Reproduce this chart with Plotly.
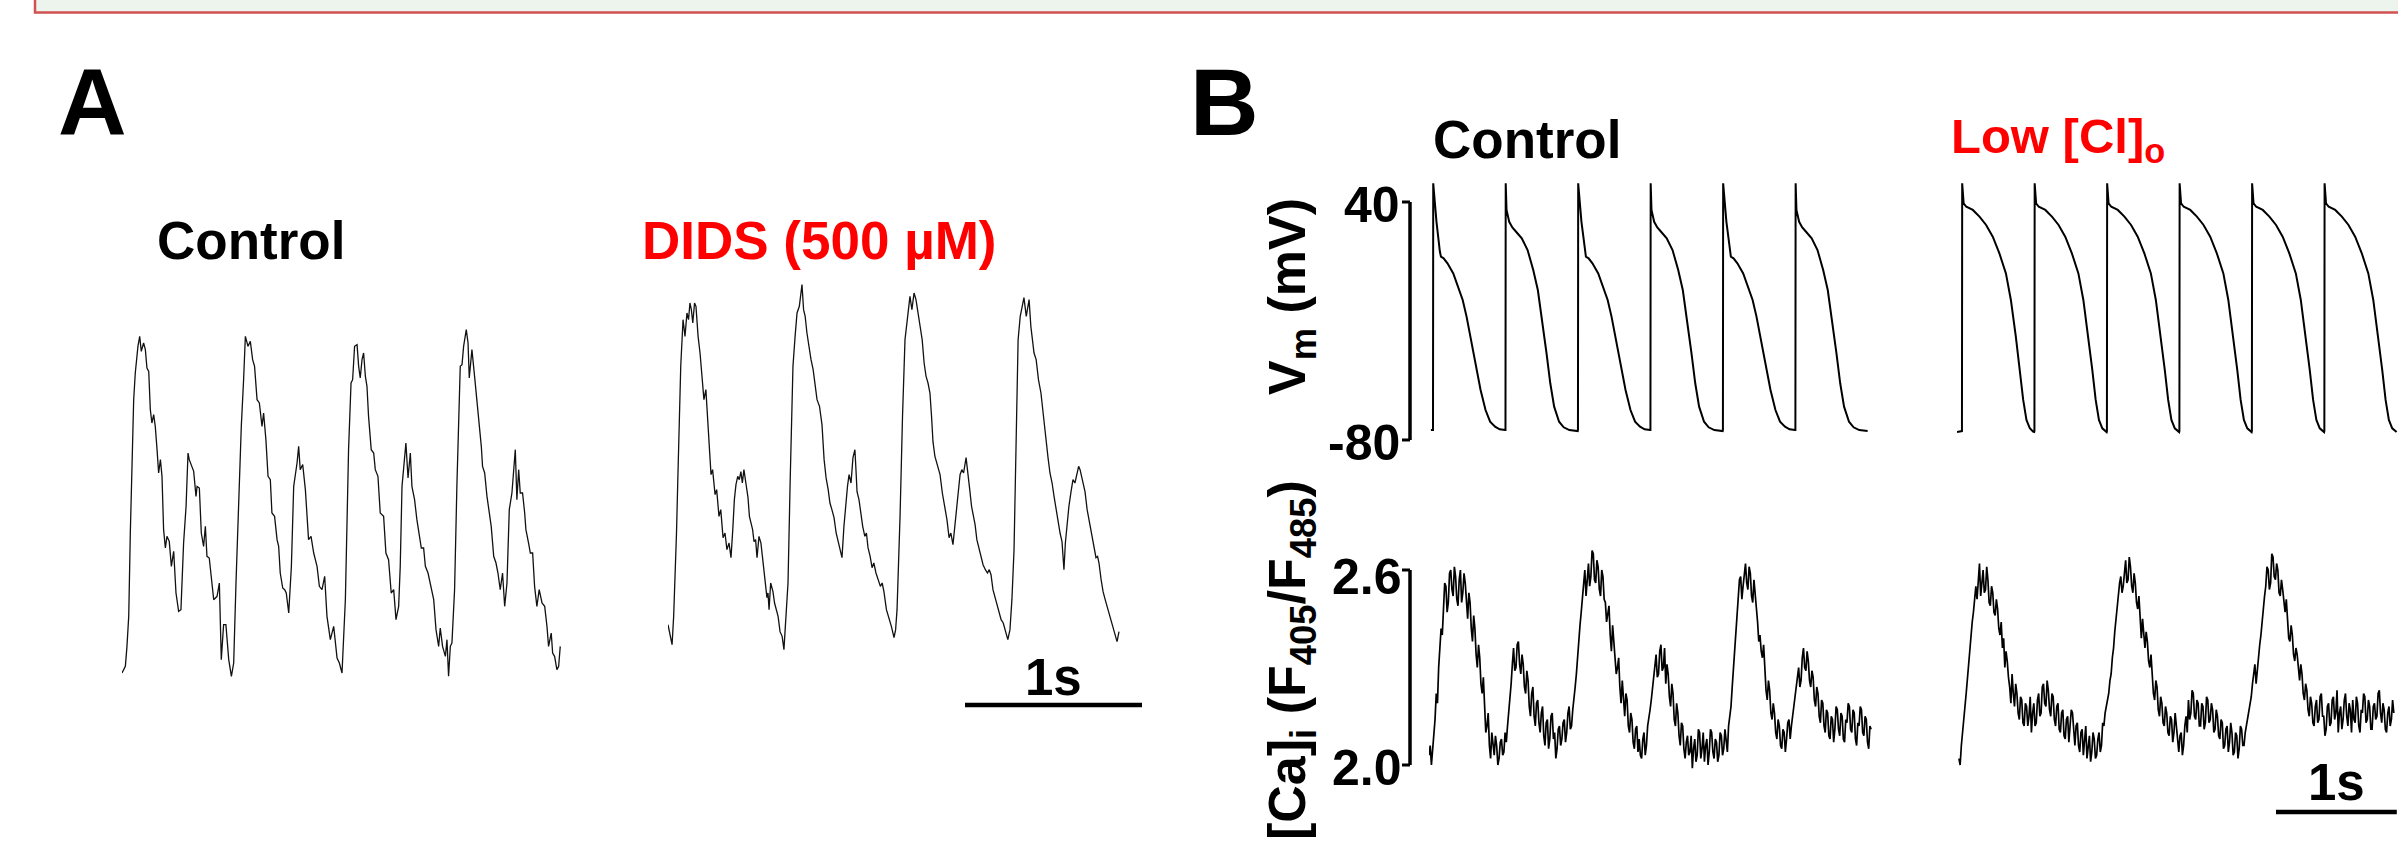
import plotly.graph_objects as go

W, H = 2398, 850

# ---------------- data ----------------
# Panel A: Ca transients (a.u.), time in ms
ctrlA = [(0,3),(19,5),(28,11),(38,20),(47,45),(56,63),(66,85),(75,93),(85,100),(90,101),(100,104),(109,99.5),(122,102),(132,100),(141,94.5),(151,93.5),(160,82),(169,78),(179,80.5),(188,77),(198,70),(207,63),(217,67),(226,62),(235,46),(245,40.5),(254,44),(267,42.5),(279,35),(292,39.5),(305,27),(320,21.5),(333,22),(348,42),(362,53),(373,69),(380,67),(395,64.5),(405,63.5),(418,56),(424,59),(437,58.5),(448,45),(461,41),(471,47),(480,38),(493,37.5),(508,30),(518,25),(537,26),(550,30),(561,7),(574,17.5),(587,17.5),(603,7),(618,2),(631,6),(644,30),(659,55),(674,77),(687,91),(697,104),(712,101),(725,102.5),(738,97),(749,95),(763,85),(776,84),(791,77),(800,81),(813,73),(825,62),(838,61),(847,51),(862,50),(876,43),(885,41),(894,33),(908,28.5),(919,28),(928,27),(942,21),(957,35),(970,59),(989,66),(998,71),(1007,64),(1021,65.5),(1036,58),(1054,43),(1068,44),(1083,39),(1102,35),(1115,29),(1130,28),(1145,32),(1158,20),(1177,13),(1196,17),(1215,7.5),(1228,6),(1243,3),(1262,25),(1271,51),(1280,70),(1294,90),(1303,91),(1314,101),(1328,101.5),(1337,95),(1346,91.5),(1356,97),(1365,99),(1375,92),(1384,89),(1393,80),(1408,70),(1422,69),(1431,64),(1446,62),(1459,51),(1478,50),(1491,39),(1506,37),(1521,27),(1535,28),(1548,19),(1563,23),(1572,35),(1582,59),(1597,67),(1604,72),(1616,61.5),(1629,69),(1638,59),(1653,55),(1666,49),(1676,45),(1691,40.5),(1704,40.5),(1714,35),(1729,33),(1742,29.5),(1761,25),(1774,16),(1789,11),(1798,16.5),(1811,11),(1827,8),(1836,13),(1845,2),(1855,11),(1864,12),(1879,28),(1892,59),(1902,82),(1911,95),(1921,95.5),(1930,101),(1945,106),(1955,102),(1962,91.5),(1977,100),(1992,92),(2002,87),(2015,80.5),(2030,71),(2037,65),(2049,63),(2062,56),(2071,52),(2086,47),(2100,38),(2113,36),(2124,33),(2137,28),(2150,33),(2162,23),(2175,30),(2188,52),(2203,57),(2213,64),(2222,70),(2231,55),(2241,64),(2250,57),(2263,57),(2275,51),(2282,46),(2297,42),(2307,39),(2320,39),(2331,29),(2344,23),(2357,28),(2373,24),(2388,23),(2401,17),(2410,11),(2425,15),(2433,9),(2444,8),(2457,4),(2467,5),(2476,11)]

didsA = [(0,17.5),(12,14),(23,11.5),(32,20),(40,31),(48,45),(55,60),(62,77.5),(72,95),(85,109),(96,104),(107,111),(116,109),(124,114),(132,112),(140,108),(150,114),(158,113),(165,107),(170,104),(181,99),(192,92),(203,85),(214,88),(226,77.5),(235,70),(243,62.5),(252,64),(266,56.5),(275,58),(288,50),(298,52),(311,43.6),(322,45),(333,40),(345,42),(356,37.6),(366,46),(375,55),(384,59.5),(394,62),(403,61),(412,63.4),(420,60),(429,64),(440,60),(452,55.6),(460,50),(469,48),(478,46),(486,42.4),(495,43),(503,37.6),(514,44),(525,42),(533,38),(542,34.6),(550,31),(559,25.6),(565,27),(571,22),(580,30),(593,27.4),(602,24),(610,22),(622,20),(633,15.4),(645,14),(655,10),(665,18),(678,30),(690,60),(706,95),(718,104),(729,111),(742,113),(757,119.5),(766,112),(775,110),(785,105),(796,101),(808,97),(820,94),(830,89),(842,85),(856,83),(870,77.5),(882,67),(893,61.6),(905,58),(915,54),(926,52),(938,49.6),(950,45),(961,42.4),(972,40),(983,37.6),(994,47),(1005,55),(1014,59),(1023,62.5),(1034,60),(1045,67.6),(1056,70),(1062,64),(1068,57.4),(1079,55),(1090,50),(1100,47),(1112,44),(1121,45),(1130,40.6),(1142,38),(1153,34.6),(1163,36),(1175,33),(1188,31),(1200,29),(1210,30),(1220,27.4),(1234,22),(1249,19.6),(1262,17),(1277,13.6),(1286,16),(1294,22),(1302,35),(1311,50),(1325,80),(1339,103),(1352,109),(1367,116),(1378,112),(1390,117),(1401,115),(1413,111),(1425,107),(1436,103),(1447,96),(1458,92),(1469,90),(1480,87),(1489,80),(1497,72.4),(1508,68),(1520,66),(1528,64),(1537,62.5),(1550,57),(1565,52.6),(1576,49),(1588,43.6),(1598,45),(1610,41.5),(1618,46),(1627,50),(1638,58),(1650,62.5),(1660,64),(1670,63),(1684,67.6),(1694,62),(1706,57.4),(1715,53),(1726,50),(1735,47.5),(1745,43),(1758,40),(1768,38),(1780,35.5),(1793,34),(1805,33),(1815,34),(1825,32.5),(1836,28),(1848,25.6),(1858,24),(1870,21),(1882,19),(1894,18),(1910,14.5),(1920,13),(1932,16),(1943,25),(1955,40),(1965,70),(1978,103),(1990,110),(2000,113),(2011,115.6),(2024,110),(2033,113),(2040,115),(2050,107),(2059,103),(2068,99),(2080,97),(2093,91),(2107,87),(2120,80),(2133,73),(2147,67.6),(2158,63),(2170,60),(2181,56),(2192,52.6),(2203,48),(2215,45),(2226,42.4),(2231,38),(2237,34),(2245,42),(2254,48),(2265,53),(2277,57.4),(2288,61),(2299,60),(2311,63.4),(2320,65),(2328,64),(2340,61),(2356,57.4),(2368,52),(2384,47.5),(2396,43),(2408,40),(2418,37.6),(2427,38),(2435,36),(2447,31),(2458,27.4),(2470,25),(2486,22),(2499,20),(2514,17.5),(2525,15),(2537,12.4),(2548,15.4)]

# Panel B: action potential shapes (ms after upstroke, mV)
ap_ctrl_a = [(0,-75),(2,49.4),(29,30),(57,15),(66,12.4),(88,11.6),(120,9.1),(168,4.0),(199,-1.0),(246,-9.4),(278,-17.8),(325,-33),(357,-43),(394,-54.8),(435,-64.9),(473,-70.8),(514,-73.3),(552,-74.6),(598,-75)]
ap_ctrl_b = [(0,-75),(2,49.4),(9,36),(31,30),(57,27.2),(88,25),(135,21.7),(183,15.8),(230,5.7),(268,-4.4),(308,-21.2),(340,-36.3),(371,-51.4),(403,-63.2),(444,-70.8),(482,-73.6),(529,-75),(598,-75.5)]
ap_low = [(0,-75.5),(2,49.4),(14,39.3),(36,37.6),(90,36),(145,32.6),(200,28.4),(255,22.5),(310,14.1),(364,4.0),(405,-9.4),(446,-27.9),(479,-44.7),(507,-59.8),(534,-69.9),(562,-74.1),(589,-75.8),(598,-76)]
vm_ctrl_onsets = [33, 633, 1233, 1833, 2433, 3033]
vm_ctrl_kinds = ["a", "b", "a", "b", "a", "b"]
vm_low_onsets = [41, 641, 1241, 1841, 2441, 3041]
vm_ctrl_start = (16, -75)
vm_low_start = (0, -76)

# Panel B: [Ca]i ratio F405/F485, sampled every 10 ms
ca_dt = 10
ca_ctrl_t0 = 0
ca_ctrl = [2.03,2.06,2.00,2.04,2.10,2.14,2.22,2.19,2.30,2.38,2.42,2.40,2.50,2.56,
           2.55,2.47,2.50,2.59,2.60,2.54,2.52,2.61,2.58,2.51,2.49,2.57,2.60,2.50,2.53,2.59,
           2.56,2.49,2.45,2.53,2.50,2.42,2.38,2.46,2.42,2.34,2.30,2.37,
           2.33,2.25,2.22,2.27,2.18,2.10,2.12,2.16,2.06,2.02,2.10,2.05,2.03,2.09,
           2.06,2.00,2.02,2.07,2.08,2.03,2.04,2.10,2.07,2.12,
           2.16,2.21,2.25,2.31,2.36,2.29,2.30,2.37,2.38,2.31,2.28,2.34,
           2.31,2.24,2.22,2.29,2.26,2.18,2.15,2.22,2.24,2.15,2.12,2.19,2.20,2.13,
           2.10,2.16,2.18,2.09,2.06,2.13,2.14,2.05,2.08,2.15,2.16,2.08,2.10,2.02,2.05,2.11,2.12,2.06,2.08,2.13,
           2.14,2.07,2.10,2.16,2.18,2.11,2.12,2.17,2.20,2.24,
           2.28,2.34,2.38,2.43,2.47,2.51,2.55,2.60,
           2.52,2.58,2.62,2.55,2.58,2.66,2.65,2.57,2.56,2.63,2.61,2.54,2.52,2.60,2.58,2.51,
           2.50,2.44,2.46,2.49,2.40,2.35,2.43,2.37,2.33,2.28,2.30,2.33,2.24,2.19,2.26,2.21,
           2.15,2.22,2.20,2.12,2.10,2.16,2.14,2.07,2.05,2.11,2.12,2.04,2.08,2.03,
           2.02,2.08,2.10,2.03,2.06,2.12,2.14,2.17,
           2.20,2.24,2.26,2.31,2.34,2.27,2.28,2.35,2.37,2.29,2.30,2.36,2.25,2.31,
           2.28,2.21,2.18,2.25,2.22,2.14,2.12,2.19,2.16,2.09,2.06,2.13,2.12,2.05,2.02,2.07,2.09,2.03,
           2.04,2.09,1.99,2.05,2.08,2.01,2.03,2.11,2.10,2.02,2.05,2.10,2.01,2.06,2.08,2.00,2.04,2.11,
           2.10,2.04,2.02,2.08,2.07,2.01,2.03,2.10,2.09,2.03,2.05,2.11,2.08,2.04,2.12,2.15,
           2.18,2.24,2.30,2.36,2.42,2.47,2.52,2.57,2.58,2.51,2.55,2.60,
           2.62,2.56,2.54,2.61,2.59,2.52,2.50,2.57,2.53,2.47,
           2.44,2.38,2.40,2.35,2.33,2.37,2.28,2.23,2.20,2.26,2.23,2.16,2.14,2.19,
           2.16,2.10,2.08,2.14,2.12,2.06,2.05,2.11,2.10,2.04,2.08,2.13,2.14,2.08,2.12,2.16,
           2.18,2.21,2.24,2.28,2.30,2.24,2.26,2.33,2.36,2.30,2.29,2.35,2.32,2.26,2.24,2.29,
           2.27,2.20,2.18,2.24,2.22,2.15,2.13,2.20,2.19,2.12,2.10,2.17,2.16,2.09,2.08,2.15,2.14,2.07,2.11,2.18,
           2.17,2.11,2.09,2.16,2.15,2.08,2.07,2.14,2.13,2.19,2.18,2.11,2.10,2.17,2.16,2.08,2.06,2.13,
           2.12,2.18,2.17,2.10,2.09,2.15,2.14,2.07,2.05,2.12,2.11]
ca_low_t0 = 16
ca_low = [2.02,2.00,2.06,2.11,2.14,2.18,2.22,2.27,
          2.30,2.35,2.40,2.44,2.47,2.52,2.55,2.51,2.58,2.62,
          2.52,2.57,2.60,2.53,2.54,2.61,2.57,2.50,2.49,2.55,2.53,2.47,
          2.46,2.51,2.48,2.42,2.40,2.44,2.36,2.39,2.30,2.35,2.32,2.27,
          2.24,2.19,2.28,2.22,2.18,2.25,2.22,2.16,2.14,2.21,2.20,2.13,2.12,2.19,2.18,2.12,
          2.15,2.21,2.10,2.16,2.19,2.12,2.13,2.20,2.22,2.15,2.16,2.24,2.25,2.19,2.18,2.26,2.23,2.17,
          2.15,2.22,2.21,2.14,2.12,2.18,2.19,2.11,2.10,2.16,2.17,2.09,2.08,2.14,2.15,2.07,2.11,2.17,
          2.16,2.10,2.06,2.12,2.13,2.06,2.04,2.10,2.11,2.03,2.07,2.12,2.02,2.07,2.09,2.01,2.04,2.10,2.08,2.02,
          2.03,2.08,2.10,2.04,2.06,2.13,2.12,2.16,2.18,2.21,2.22,2.26,
          2.28,2.33,2.36,2.41,2.45,2.49,2.52,2.56,2.58,2.53,
          2.55,2.60,2.63,2.56,2.57,2.64,2.61,2.55,2.53,2.59,2.56,2.50,2.48,2.52,
          2.43,2.39,2.45,2.40,2.36,2.41,2.38,2.32,2.30,2.34,2.26,2.22,
          2.20,2.26,2.24,2.17,2.15,2.21,2.19,2.13,2.12,2.18,2.16,2.10,2.09,2.15,2.14,2.07,2.10,2.16,
          2.12,2.07,2.04,2.09,2.10,2.03,2.06,2.12,2.15,2.10,2.20,2.14,
          2.16,2.23,2.22,2.15,2.14,2.20,2.19,2.12,2.12,2.19,2.18,2.11,2.13,2.21,2.20,2.13,2.14,2.19,
          2.17,2.10,2.11,2.17,2.15,2.09,2.08,2.14,2.13,2.05,2.06,2.11,2.12,2.04,2.07,2.13,2.10,2.03,
          2.04,2.10,2.09,2.02,2.05,2.12,2.11,2.06,
          2.06,2.10,2.12,2.14,2.16,2.19,2.21,2.25,2.28,2.31,
          2.25,2.30,2.33,2.37,2.40,2.45,2.48,2.52,
          2.55,2.61,2.60,2.54,2.56,2.65,2.64,2.58,2.57,2.62,2.60,2.53,2.52,2.57,
          2.54,2.49,2.47,2.51,2.44,2.39,2.38,2.43,2.40,2.34,2.32,2.36,
          2.34,2.29,2.26,2.31,2.28,2.22,2.20,2.25,2.23,2.17,2.15,2.21,2.19,2.13,
          2.12,2.18,2.20,2.13,2.14,2.21,2.22,2.15,2.15,2.09,2.11,2.18,2.19,2.12,2.13,2.20,
          2.21,2.14,2.16,2.23,2.10,2.16,2.18,2.11,2.14,2.20,2.22,2.15,2.12,2.19,2.17,2.10,
          2.20,2.14,2.13,2.21,2.19,2.12,2.10,2.17,2.16,2.22,2.21,2.13,2.14,2.20,2.18,2.11,
          2.11,2.18,2.19,2.14,2.15,2.22,2.23,2.16,2.13,2.19,2.17,2.11,2.10,2.16,2.18,2.12,
          2.14,2.20,2.16]

vm_ticks = [40, -80]
ca_ticks = [2.6, 2.0]
scale_ms = 1000

# ---------------- helpers ----------------
def px(x):
    return x / W

def py(y):
    return 1 - y / H

def build_ap(start, onsets, kinds, shapes):
    t = [start[0]]
    v = [start[1]]
    for on, k in zip(onsets, kinds):
        for dt, mv in shapes[k]:
            t.append(on + dt)
            v.append(mv)
    return t, v

FONT = "Liberation Sans, Arial, Helvetica, sans-serif"
A_PX_MS = 0.177      # pixels per ms, panel A
B_PX_MS = 0.1208     # pixels per ms, panel B

fig = go.Figure()

# Panel A traces
tA, vA = zip(*ctrlA)
tD, vD = zip(*didsA)
fig.add_trace(go.Scatter(x=tA, y=vA, mode="lines", line=dict(color="#111111", width=1.3),
                         xaxis="x", yaxis="y", hoverinfo="skip"))
fig.add_trace(go.Scatter(x=tD, y=vD, mode="lines", line=dict(color="#111111", width=1.3),
                         xaxis="x2", yaxis="y", hoverinfo="skip"))

# Panel B Vm
tc, vc = build_ap(vm_ctrl_start, vm_ctrl_onsets, vm_ctrl_kinds, {"a": ap_ctrl_a, "b": ap_ctrl_b})
tl, vl = build_ap(vm_low_start, vm_low_onsets, ["c"] * len(vm_low_onsets), {"c": ap_low})
fig.add_trace(go.Scatter(x=tc, y=vc, mode="lines", line=dict(color="black", width=2),
                         xaxis="x3", yaxis="y2", hoverinfo="skip"))
fig.add_trace(go.Scatter(x=tl, y=vl, mode="lines", line=dict(color="black", width=2),
                         xaxis="x4", yaxis="y2", hoverinfo="skip"))

# Panel B Ca
tcc = [ca_ctrl_t0 + i * ca_dt for i in range(len(ca_ctrl))]
tlc = [ca_low_t0 + i * ca_dt for i in range(len(ca_low))]
fig.add_trace(go.Scatter(x=tcc, y=ca_ctrl, mode="lines", line=dict(color="black", width=1.7),
                         xaxis="x3", yaxis="y3", hoverinfo="skip"))
fig.add_trace(go.Scatter(x=tlc, y=ca_low, mode="lines", line=dict(color="black", width=1.7),
                         xaxis="x4", yaxis="y3", hoverinfo="skip"))

hidden = dict(visible=False, fixedrange=True)
fig.update_layout(
    width=W, height=H,
    margin=dict(l=0, r=0, t=0, b=0),
    font=dict(family=FONT, size=50, color="black"),
    paper_bgcolor="white", plot_bgcolor="rgba(0,0,0,0)",
    showlegend=False,
    xaxis=dict(domain=[px(122), px(122 + 2600 * A_PX_MS)], range=[0, 2600], anchor="y", **hidden),
    xaxis2=dict(domain=[px(668), px(668 + 2800 * A_PX_MS)], range=[0, 2800], anchor="y", **hidden),
    yaxis=dict(domain=[py(683), py(683 - 125 / 0.3)], range=[0, 125], anchor="x", **hidden),
    xaxis3=dict(domain=[px(1429), px(1429 + 3700 * B_PX_MS)], range=[0, 3700], anchor="y2", **hidden),
    xaxis4=dict(domain=[px(1957), min(1.0, px(1957 + 3650 * B_PX_MS))], range=[0, 3650], anchor="y2", **hidden),
    yaxis2=dict(domain=[py(449.9), py(172.25)], range=[-85, 55], anchor="x3", **hidden),
    yaxis3=dict(domain=[py(781.25), py(537.5)], range=[1.95, 2.7], anchor="x3", **hidden),
)

shapes = []
# top strip
shapes.append(dict(type="rect", xref="paper", yref="paper", x0=px(35), x1=1.02, y0=py(12.5), y1=1.05,
                   fillcolor="#EDF4EE", line=dict(color="#D05252", width=2.5), layer="below"))
# bracket axes
bx = px(1410)
tk = px(1402)
for yref, (top, bot) in (("y2", vm_ticks), ("y3", ca_ticks)):
    shapes.append(dict(type="line", xref="paper", yref=yref, x0=bx, x1=bx, y0=bot, y1=top,
                       line=dict(color="black", width=3.5)))
    for val in (top, bot):
        shapes.append(dict(type="line", xref="paper", yref=yref, x0=tk, x1=bx, y0=val, y1=val,
                           line=dict(color="black", width=3)))
# scale bars
barA0 = (965 - 668) / A_PX_MS
shapes.append(dict(type="line", xref="x2", yref="paper", x0=barA0, x1=barA0 + scale_ms,
                   y0=py(705), y1=py(705), line=dict(color="black", width=4.5)))
barB0 = (2276 - 1957) / B_PX_MS
shapes.append(dict(type="line", xref="x4", yref="paper", x0=barB0, x1=barB0 + scale_ms,
                   y0=py(812), y1=py(812), line=dict(color="black", width=4.5)))
fig.update_layout(shapes=shapes)

ann = []
def text(s, x, y, size, color="black", xanchor="left", angle=0, xref="paper"):
    ann.append(dict(text=s, x=x, y=py(y), xref=xref, yref="paper", showarrow=False,
                    xanchor=xanchor, yanchor="middle", textangle=angle,
                    font=dict(family=FONT, size=size, color=color, weight="bold")))

text("A", px(56), 102, 95)
text("B", px(1188), 102, 95)
text("Control", px(155), 240, 53)
text("DIDS (500 µM)", px(640), 240, 53, color="#FF0000")
text("Control", px(1431), 140, 53)
text("Low [Cl]<sub>o</sub>", px(1949), 140, 49, color="#FF0000")
text("40", px(1402), 205, 50, xanchor="right")
text("-80", px(1402), 443, 50, xanchor="right")
text("2.6", px(1404), 577, 50, xanchor="right")
text("2.0", px(1404), 768, 50, xanchor="right")
text("1s", barA0 + scale_ms / 2, 677, 51, xanchor="center", xref="x2")
text("1s", barB0 + scale_ms / 2, 782, 51, xanchor="center", xref="x4")
text("V<sub>m</sub> (mV)", px(1291), 296, 52, xanchor="center", angle=-90)
text("[Ca]<sub>i</sub> (F<sub>405</sub>/F<sub>485</sub>)", px(1291), 660, 52, xanchor="center", angle=-90)
fig.update_layout(annotations=ann)

fig.write_html("out.html", config={"displayModeBar": False},
               post_script="document.body.style.margin='0px';document.body.style.overflow='hidden';")
